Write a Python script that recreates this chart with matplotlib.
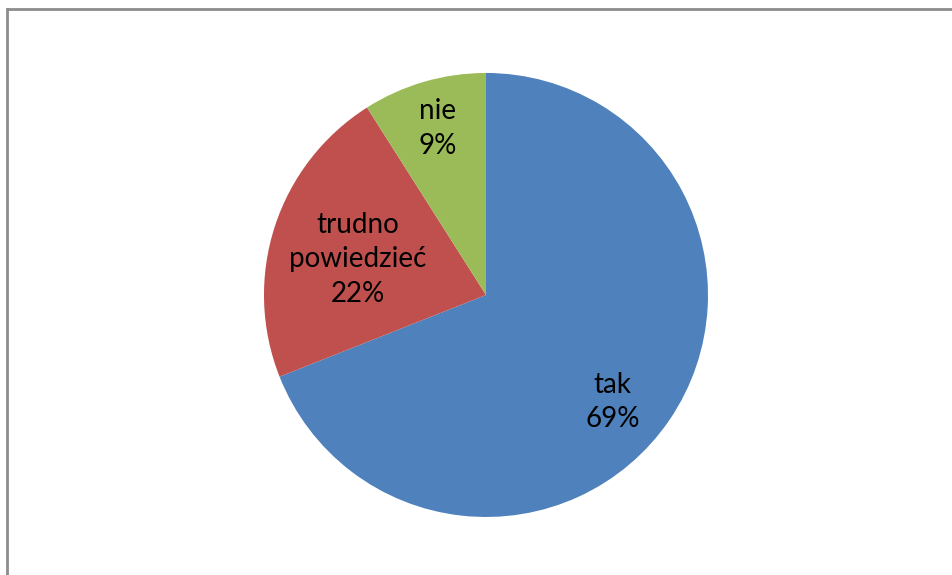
import matplotlib.pyplot as plt
import numpy as np
from matplotlib.lines import Line2D

labels = ["tak", "trudno\npowiedzieć", "nie"]
values = [69, 22, 9]
colors = ["#4F81BD", "#C0504D", "#9BBB59"]
label_dist = [0.745, 0.60, 0.78]
label_turn = [-6, 2.5, 0]  # degrees, nudges label off the slice middle

plt.rcParams["font.family"] = ["Lato", "DejaVu Sans"]

fig = plt.figure(figsize=(9.53, 5.75), dpi=100)
ax = fig.add_axes([0.277, 0.1009, 0.4659, 0.7722])

wedges, _ = ax.pie(
    values,
    colors=colors,
    startangle=90,
    counterclock=False,
    radius=1,
    wedgeprops=dict(linewidth=0),
)

total = sum(values)
for w, lab, v, d, t in zip(wedges, labels, values, label_dist, label_turn):
    ang = np.deg2rad((w.theta1 + w.theta2) / 2 + t)
    ax.text(
        d * np.cos(ang),
        d * np.sin(ang),
        f"{lab}\n{round(v / total * 100)}%",
        ha="center",
        va="center",
        fontsize=20,
        linespacing=1.4,
        color="black",
    )

ax.set_xlim(-1, 1)
ax.set_ylim(-1, 1)
ax.set_aspect("equal")
ax.axis("off")

# chart area border (top and left visible)
fig.add_artist(Line2D([8 / 953, 1], [1 - 8.5 / 575] * 2, color="#8c8c8c", lw=2.0))
fig.add_artist(Line2D([7.5 / 953] * 2, [0, 1 - 8.5 / 575], color="#8c8c8c", lw=2.0))

fig.savefig("out.png", dpi=100)
